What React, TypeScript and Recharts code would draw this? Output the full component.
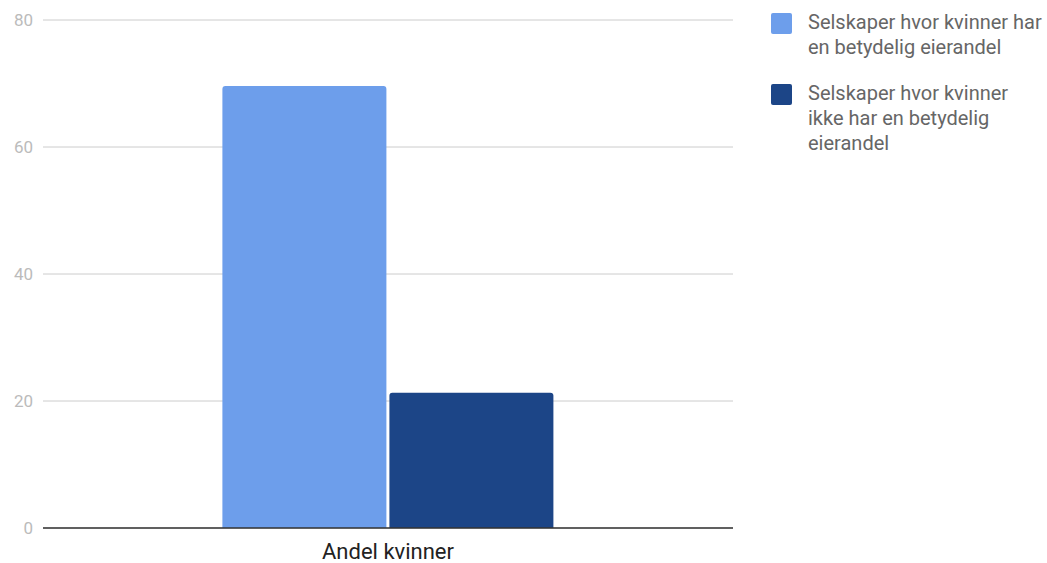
import React from "react";
import { BarChart, Bar, XAxis, YAxis, CartesianGrid, Legend } from "recharts";

const categories = ["Andel kvinner"];
const withOwnership = [69.6];
const withoutOwnership = [21.3];
// Legend labels, one entry per wrapped line
const seriesLabelLines = [
  ["Selskaper hvor kvinner har", "en betydelig eierandel"],
  ["Selskaper hvor kvinner", "ikke har en betydelig", "eierandel"],
];
const seriesColors = ["#6d9eeb", "#1c4587"];
const yTicks = [0, 20, 40, 60, 80];

const data = categories.map((c, i) => ({
  category: c,
  a: withOwnership[i],
  b: withoutOwnership[i],
}));

const FONT = "Roboto, 'Noto Sans', sans-serif";
const LEGEND_WIDTH = 276;

function LegendContent() {
  return (
    <div style={{ fontFamily: FONT }}>
      {seriesLabelLines.map((lines, i) => (
        <div
          key={i}
          style={{ display: "flex", alignItems: "flex-start", marginBottom: 21 }}
        >
          <div
            style={{
              width: 21,
              height: 21,
              borderRadius: 2,
              background: seriesColors[i],
              flex: "0 0 auto",
              marginTop: 3,
            }}
          />
          <div
            style={{
              marginLeft: 16,
              fontSize: 20,
              lineHeight: "25px",
              color: "#666",
              whiteSpace: "nowrap",
            }}
          >
            {lines.map((l) => (
              <div key={l}>{l}</div>
            ))}
          </div>
        </div>
      ))}
    </div>
  );
}

export default function App() {
  return (
    <div style={{ position: "absolute", left: 0, top: 0, background: "#fff" }}>
      <BarChart
        width={1047}
        height={563}
        data={data}
        margin={{ top: 20, right: 314 - LEGEND_WIDTH, bottom: 5, left: 0 }}
        barCategoryGap="26%"
        barGap={3}
      >
        <CartesianGrid vertical={false} stroke="#cccccc" strokeWidth={1} />
        <XAxis
          dataKey="category"
          axisLine={{ stroke: "#333333", strokeWidth: 1.5 }}
          tickLine={false}
          tickMargin={9}
          tick={{ fill: "#222222", fontSize: 22, fontFamily: FONT }}
        />
        <YAxis
          width={43}
          domain={[0, 80]}
          ticks={yTicks}
          axisLine={false}
          tickLine={false}
          tickMargin={4}
          tick={{ fill: "#bbbbbb", fontSize: 17, fontFamily: FONT }}
        />
        <Legend
          layout="vertical"
          align="right"
          verticalAlign="top"
          content={<LegendContent />}
          wrapperStyle={{ left: 771, top: 10, width: LEGEND_WIDTH }}
        />
        <Bar
          dataKey="a"
          name={seriesLabelLines[0].join(" ")}
          fill={seriesColors[0]}
          radius={[3, 3, 0, 0]}
          isAnimationActive={false}
        />
        <Bar
          dataKey="b"
          name={seriesLabelLines[1].join(" ")}
          fill={seriesColors[1]}
          radius={[3, 3, 0, 0]}
          isAnimationActive={false}
        />
      </BarChart>
    </div>
  );
}
